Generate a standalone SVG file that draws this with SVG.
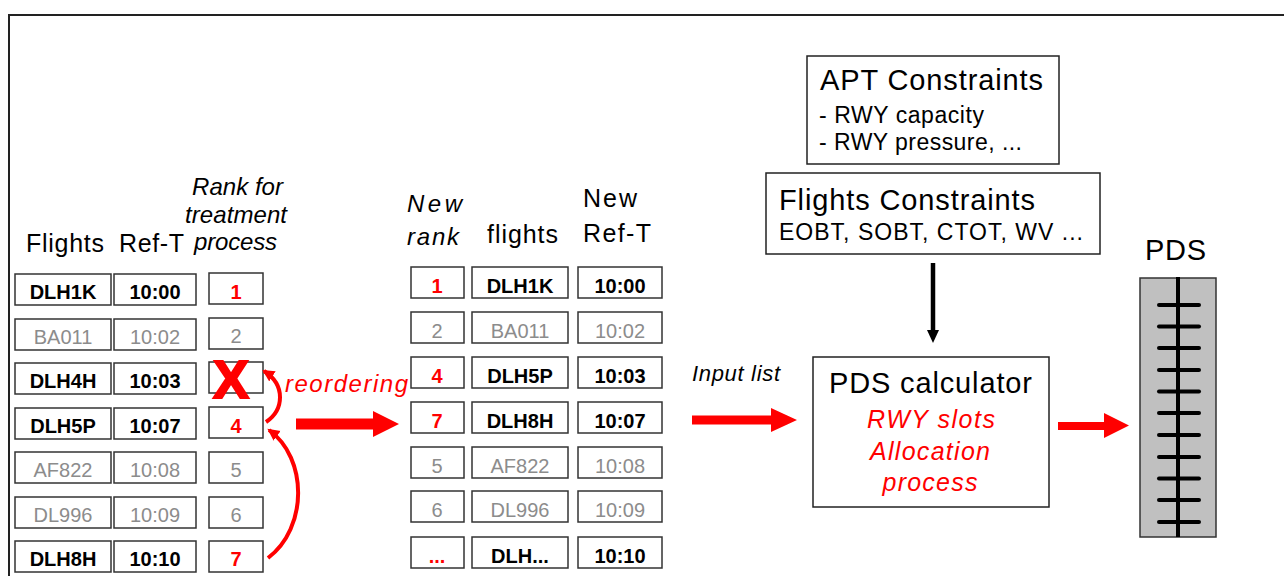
<svg xmlns="http://www.w3.org/2000/svg" width="1284" height="576" viewBox="0 0 1284 576">
<style>
text{font-family:"Liberation Sans",Arial,sans-serif}
.cell{fill:#fff;stroke:#333;stroke-width:1.5}
.c{font-size:20px;text-anchor:middle}
.b{font-weight:bold;fill:#000}
.g{fill:#8c8c8c}
.r{font-weight:bold;fill:#f00}
.hd{font-size:25px;fill:#000}
.hi{font-size:24px;font-style:italic;fill:#000}
.box{fill:#fff;stroke:#222;stroke-width:1.5}
.red{fill:#f00}
.curve{fill:none;stroke:#f00;stroke-width:4}
.tick{stroke:#000;stroke-width:4;stroke-linecap:round}
</style>
<defs>
<marker id="rh" markerUnits="userSpaceOnUse" markerWidth="14" markerHeight="14" refX="10" refY="6" orient="auto">
<path d="M0,0 L12,6 L0,12 Z" fill="#f00"/>
</marker>
</defs>
<rect width="1284" height="576" fill="#fff"/>
<path d="M9,576 V15 H1284" fill="none" stroke="#222" stroke-width="2"/>

<g id="left-headers">
<text class="hd" x="26" y="252" textLength="78">Flights</text>
<text class="hd" x="119" y="252" textLength="65">Ref-T</text>
<text class="hi" x="192" y="195" textLength="91">Rank for</text>
<text class="hi" x="185" y="223" textLength="102">treatment</text>
<text class="hi" x="194" y="250" textLength="83">process</text>
</g>

<g id="left-row1">
<rect class="cell" x="15" y="274" width="96" height="31"/><rect class="cell" x="114" y="274" width="82" height="31"/><rect class="cell" x="209" y="273" width="54" height="31"/>
<text class="c b" x="63" y="299">DLH1K</text><text class="c b" x="155" y="299">10:00</text><text class="c r" x="236" y="299">1</text>
</g>
<g id="left-row2">
<rect class="cell" x="15" y="319" width="96" height="31"/><rect class="cell" x="114" y="319" width="82" height="31"/><rect class="cell" x="209" y="318" width="54" height="31"/>
<text class="c g" x="63" y="344">BA011</text><text class="c g" x="155" y="344">10:02</text><text class="c g" x="236" y="343">2</text>
</g>
<g id="left-row3">
<rect class="cell" x="15" y="363" width="96" height="31"/><rect class="cell" x="114" y="363" width="82" height="31"/><rect class="cell" x="209" y="362" width="54" height="31"/>
<text class="c b" x="63" y="388">DLH4H</text><text class="c b" x="155" y="388">10:03</text>
<text x="231" y="398" font-size="54" font-weight="bold" fill="#f00" stroke="#f00" stroke-width="2" text-anchor="middle">X</text>
</g>
<g id="left-row4">
<rect class="cell" x="15" y="408" width="96" height="31"/><rect class="cell" x="114" y="408" width="82" height="31"/><rect class="cell" x="209" y="407" width="54" height="31"/>
<text class="c b" x="63" y="433">DLH5P</text><text class="c b" x="155" y="433">10:07</text><text class="c r" x="236" y="433">4</text>
</g>
<g id="left-row5">
<rect class="cell" x="15" y="452" width="96" height="31"/><rect class="cell" x="114" y="452" width="82" height="31"/><rect class="cell" x="209" y="452" width="54" height="31"/>
<text class="c g" x="63" y="477">AF822</text><text class="c g" x="155" y="477">10:08</text><text class="c g" x="236" y="477">5</text>
</g>
<g id="left-row6">
<rect class="cell" x="15" y="497" width="96" height="31"/><rect class="cell" x="114" y="497" width="82" height="31"/><rect class="cell" x="209" y="497" width="54" height="31"/>
<text class="c g" x="63" y="522">DL996</text><text class="c g" x="155" y="522">10:09</text><text class="c g" x="236" y="522">6</text>
</g>
<g id="left-row7">
<rect class="cell" x="15" y="541" width="96" height="31"/><rect class="cell" x="114" y="541" width="82" height="31"/><rect class="cell" x="209" y="541" width="54" height="31"/>
<text class="c b" x="63" y="566">DLH8H</text><text class="c b" x="155" y="566">10:10</text><text class="c r" x="236" y="566">7</text>
</g>

<g id="mid-headers">
<text x="407" y="212" font-size="24" font-style="italic" textLength="55">New</text>
<text x="407" y="245" font-size="24" font-style="italic" textLength="52">rank</text>
<text class="hd" x="487" y="243" textLength="71">flights</text>
<text class="hd" x="583" y="207" textLength="54">New</text>
<text class="hd" x="583" y="242" textLength="68">Ref-T</text>
</g>

<g id="mid-row1">
<rect class="cell" x="411" y="267" width="53" height="31"/><rect class="cell" x="472" y="267" width="96" height="31"/><rect class="cell" x="578" y="267" width="84" height="31"/>
<text class="c r" x="437" y="293">1</text><text class="c b" x="520" y="293">DLH1K</text><text class="c b" x="620" y="293">10:00</text>
</g>
<g id="mid-row2">
<rect class="cell" x="411" y="312" width="53" height="31"/><rect class="cell" x="472" y="312" width="96" height="31"/><rect class="cell" x="578" y="312" width="84" height="31"/>
<text class="c g" x="437" y="338">2</text><text class="c g" x="520" y="338">BA011</text><text class="c g" x="620" y="338">10:02</text>
</g>
<g id="mid-row3">
<rect class="cell" x="411" y="357" width="53" height="31"/><rect class="cell" x="472" y="357" width="96" height="31"/><rect class="cell" x="578" y="357" width="84" height="31"/>
<text class="c r" x="437" y="383">4</text><text class="c b" x="520" y="383">DLH5P</text><text class="c b" x="620" y="383">10:03</text>
</g>
<g id="mid-row4">
<rect class="cell" x="411" y="402" width="53" height="31"/><rect class="cell" x="472" y="402" width="96" height="31"/><rect class="cell" x="578" y="402" width="84" height="31"/>
<text class="c r" x="437" y="428">7</text><text class="c b" x="520" y="428">DLH8H</text><text class="c b" x="620" y="428">10:07</text>
</g>
<g id="mid-row5">
<rect class="cell" x="411" y="447" width="53" height="31"/><rect class="cell" x="472" y="447" width="96" height="31"/><rect class="cell" x="578" y="447" width="84" height="31"/>
<text class="c g" x="437" y="473">5</text><text class="c g" x="520" y="473">AF822</text><text class="c g" x="620" y="473">10:08</text>
</g>
<g id="mid-row6">
<rect class="cell" x="411" y="491" width="53" height="31"/><rect class="cell" x="472" y="491" width="96" height="31"/><rect class="cell" x="578" y="491" width="84" height="31"/>
<text class="c g" x="437" y="517">6</text><text class="c g" x="520" y="517">DL996</text><text class="c g" x="620" y="517">10:09</text>
</g>
<g id="mid-row7">
<rect class="cell" x="411" y="537" width="53" height="31"/><rect class="cell" x="472" y="537" width="96" height="31"/><rect class="cell" x="578" y="537" width="84" height="31"/>
<text class="c r" x="437" y="563">...</text><text class="c b" x="520" y="563">DLH...</text><text class="c b" x="620" y="563">10:10</text>
</g>

<g id="apt-constraints">
<rect class="box" x="807" y="56" width="252" height="108"/>
<text x="820" y="90" font-size="29" textLength="223">APT Constraints</text>
<text x="819" y="123" font-size="23" textLength="165">- RWY capacity</text>
<text x="819" y="150" font-size="23" textLength="203">- RWY pressure, ...</text>
</g>
<g id="flights-constraints">
<rect class="box" x="766" y="173" width="334" height="81"/>
<text x="779" y="210" font-size="29" textLength="256">Flights Constraints</text>
<text x="779" y="240" font-size="23" textLength="304">EOBT, SOBT, CTOT, WV ...</text>
</g>
<g id="pds-calculator">
<rect class="box" x="813" y="357" width="236" height="150"/>
<text x="829" y="393" font-size="29" textLength="203">PDS calculator</text>
<text x="931" y="428" font-size="25" font-style="italic" fill="#f00" text-anchor="middle" textLength="128">RWY slots</text>
<text x="930" y="460" font-size="25" font-style="italic" fill="#f00" text-anchor="middle" textLength="120">Allocation</text>
<text x="930" y="491" font-size="25" font-style="italic" fill="#f00" text-anchor="middle" textLength="95">process</text>
</g>
<g id="pds">
<text x="1145" y="260" font-size="29" textLength="61">PDS</text>
<rect x="1140" y="278" width="76" height="259" fill="#c0c0c0" stroke="#333" stroke-width="1.5"/>
<line x1="1178" y1="277" x2="1178" y2="537" stroke="#000" stroke-width="4"/>
<g class="tick">
<line x1="1159" y1="305" x2="1199" y2="305"/><line x1="1159" y1="326.5" x2="1199" y2="326.5"/><line x1="1159" y1="348" x2="1199" y2="348"/><line x1="1159" y1="370" x2="1199" y2="370"/><line x1="1159" y1="391.5" x2="1199" y2="391.5"/><line x1="1159" y1="413" x2="1199" y2="413"/><line x1="1159" y1="435" x2="1199" y2="435"/><line x1="1159" y1="457" x2="1199" y2="457"/><line x1="1159" y1="478.5" x2="1199" y2="478.5"/><line x1="1159" y1="500" x2="1199" y2="500"/><line x1="1159" y1="522" x2="1199" y2="522"/>
</g>
</g>

<g id="connectors">
<path class="curve" d="M266,422 C284,410 286,385 264,371" marker-end="url(#rh)"/>
<path class="curve" d="M268,558 C308,528 308,458 269,430" marker-end="url(#rh)"/>
<text x="285" y="392" font-size="24" font-style="italic" fill="#f00" textLength="123">reordering</text>
<path class="red" d="M296,418.5 H373 V411 L399,424 L373,437 V429.5 H296 Z"/>
<text x="692" y="381" font-size="22" font-style="italic" fill="#000" textLength="88">Input list</text>
<path class="red" d="M692,415.5 H771 V408 L797,420 L771,432 V424.5 H692 Z"/>
<path class="red" d="M1058,422 H1104 V413 L1129,425.5 L1104,438 V430 H1058 Z"/>
<line x1="933" y1="263" x2="933" y2="332" stroke="#000" stroke-width="4.5"/>
<path d="M927,330 L939,330 L933,343 Z" fill="#000"/>
</g>
</svg>
